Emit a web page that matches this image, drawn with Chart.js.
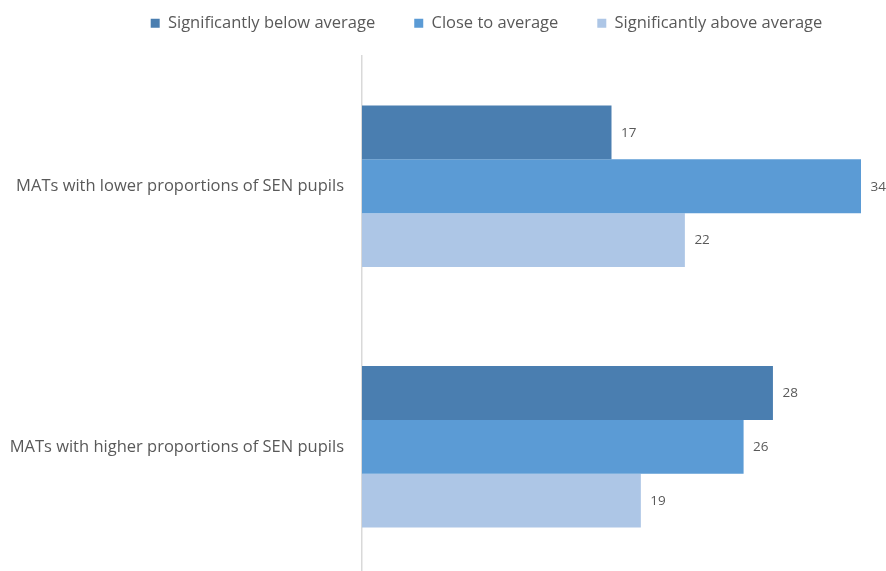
<!DOCTYPE html>
<html>
<head>
<meta charset="utf-8">
<script src="https://cdn.jsdelivr.net/npm/chart.js@4"></script>
<style>
  html, body { margin: 0; padding: 0; overflow: hidden; background: #fff; width: 886px; height: 571px; }
  #wrap { position: relative; width: 886px; height: 621px; margin-top: -24px; }
</style>
</head>
<body>
<div id="wrap"><canvas id="c" width="886" height="621"></canvas></div>
<script>
const categories = ["MATs with lower proportions of SEN pupils", "MATs with higher proportions of SEN pupils"];
const seriesNames = ["Significantly below average", "Close to average", "Significantly above average"];
const belowAverage = [17, 28];
const closeToAverage = [34, 26];
const aboveAverage = [22, 19];
const seriesColors = ["#4a7eb0", "#5b9bd5", "#adc6e6"];

const FONT = "'Open Sans', 'DejaVu Sans', sans-serif";
const TEXT = "#595959";

const legendBox = {
  id: 'legendBox',
  beforeInit(chart) {
    const orig = chart.legend.fit;
    chart.legend.fit = function () {
      orig.bind(chart.legend)();
      this.height = 80;
    };
  },
  afterLayout(chart) {
    chart.legend.left = 87;
    chart.legend.right = 886;
  }
};

const valueLabels = {
  id: 'valueLabels',
  afterDatasetsDraw(chart) {
    const ctx = chart.ctx;
    ctx.save();
    ctx.font = "13.5px " + FONT;
    ctx.fillStyle = TEXT;
    ctx.textAlign = 'left';
    ctx.textBaseline = 'middle';
    chart.data.datasets.forEach((ds, i) => {
      const meta = chart.getDatasetMeta(i);
      meta.data.forEach((el, j) => {
        ctx.fillText(String(ds.data[j]), el.x + 9.5, el.y + 0.5);
      });
    });
    ctx.restore();
  }
};

new Chart(document.getElementById('c'), {
  type: 'bar',
  data: {
    labels: categories,
    datasets: [
      { label: seriesNames[0], data: belowAverage, backgroundColor: seriesColors[0] },
      { label: seriesNames[1], data: closeToAverage, backgroundColor: seriesColors[1] },
      { label: seriesNames[2], data: aboveAverage, backgroundColor: seriesColors[2] }
    ]
  },
  options: {
    indexAxis: 'y',
    responsive: false,
    animation: false,
    devicePixelRatio: 1,
    layout: { padding: { left: 0, right: 25, top: 0, bottom: 0 } },
    datasets: { bar: { categoryPercentage: 0.62, barPercentage: 1.0, borderWidth: 0 } },
    scales: {
      x: { display: false, min: 0, max: 34 },
      y: {
        grid: { display: false },
        border: { display: true, color: '#d9d9d9', width: 1.5 },
        ticks: { color: TEXT, font: { family: FONT, size: 16.5 }, padding: 10 },
        afterFit(scale) { scale.width = 362; }
      }
    },
    plugins: {
      legend: {
        position: 'top',
        labels: {
          color: TEXT,
          font: { family: FONT, size: 16.5 },
          boxWidth: 9,
          boxHeight: 9,
          padding: 39
        }
      },
      tooltip: { enabled: false }
    }
  },
  plugins: [legendBox, valueLabels]
});
</script>
</body>
</html>
